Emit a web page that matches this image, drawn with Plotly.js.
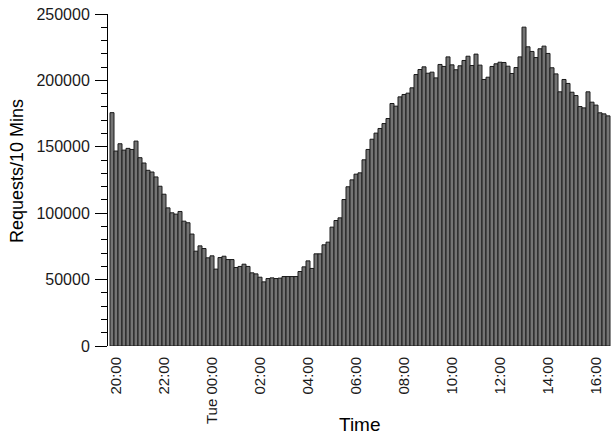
<!DOCTYPE html>
<html>
<head>
<meta charset="utf-8">
<script src="https://cdn.plot.ly/plotly-3.0.1.min.js"></script>
<style>html,body{margin:0;padding:0;background:#fff;}#chart{width:613px;height:437px;}</style>
</head>
<body>
<div id="chart"></div>
<script>
// Requests per 10-minute bin, starting Mon 19:50
const startTime = '2013-01-14T19:50:00Z';
const binMinutes = 10;
const requests = [
  175700, 146800, 152300, 147500, 148800, 148000, 154300, 141800, 137800, 132300,
  131000, 127300, 120300, 114300, 104000, 100300, 99300, 101300, 94000, 92800,
  84300, 71400, 75400, 73400, 66400, 67900, 57900, 66600, 67600, 65100,
  65100, 59100, 59900, 61600, 59900, 55100, 54300, 51800, 48300, 50800,
  51300, 50800, 51100, 52300, 52300, 52300, 52300, 56100, 59600, 64100,
  58400, 69400, 69400, 76200, 78200, 89500, 94500, 96500, 110300, 119900,
  125100, 129400, 130400, 140200, 148000, 155700, 160300, 163800, 167500, 171300,
  182600, 180600, 187600, 189400, 190400, 194400, 204400, 208200, 210200, 205400,
  206200, 201900, 212000, 210500, 217700, 211700, 208000, 211000, 215000, 218200,
  211200, 219800, 211500, 200700, 202400, 210500, 212500, 213700, 213500, 210700,
  205200, 209700, 217700, 240100, 225300, 221800, 217200, 223800, 225800, 220300,
  209500, 204900, 191400, 200700, 197700, 191100, 188600, 180300, 179300, 191400,
  183600, 181400, 175600, 174800, 173300
];
const tickTimes = [
  '2013-01-14 20:00', '2013-01-14 22:00', '2013-01-15 00:00', '2013-01-15 02:00',
  '2013-01-15 04:00', '2013-01-15 06:00', '2013-01-15 08:00', '2013-01-15 10:00',
  '2013-01-15 12:00', '2013-01-15 14:00', '2013-01-15 16:00'
];
const tickLabels = [
  '20:00', '22:00', 'Tue 00:00', '02:00', '04:00', '06:00', '08:00', '10:00',
  '12:00', '14:00', '16:00'
];
const xRange = ['2013-01-14 19:40', '2013-01-15 16:37:30'];
const xTitle = 'Time';
const yTitle = 'Requests/10 Mins';

function fmt(ms) {
  return new Date(ms).toISOString().slice(0, 19).replace('T', ' ');
}
const t0 = Date.parse(startTime);
const times = requests.map((_, i) => fmt(t0 + i * binMinutes * 60000));

const font = '"Liberation Sans", Arial, Helvetica, sans-serif';

Plotly.newPlot('chart', [{
  type: 'bar',
  x: times,
  y: requests,
  marker: { color: '#747474', line: { color: '#1a1a1a', width: 1 } },
  hoverinfo: 'x+y'
}], {
  width: 613, height: 437,
  margin: { l: 108, r: 2, t: 14, b: 91 },
  paper_bgcolor: '#ffffff', plot_bgcolor: '#ffffff',
  bargap: 0,
  showlegend: false,
  font: { family: font, color: '#000000', size: 15 },
  annotations: [{
    text: xTitle, xref: 'paper', yref: 'paper', x: 0.5, y: -0.235,
    xanchor: 'center', yanchor: 'middle', showarrow: false,
    font: { size: 19, color: '#000000' }
  }, {
    text: yTitle, xref: 'paper', yref: 'paper', x: -0.181, y: 0.527,
    xanchor: 'center', yanchor: 'middle', textangle: -90, showarrow: false,
    font: { size: 18, color: '#000000' }
  }],
  xaxis: {
    type: 'date',
    range: xRange,
    tickmode: 'array',
    tickvals: tickTimes,
    ticktext: tickLabels,
    tickangle: -90,
    ticks: '',
    ticklabelstandoff: 7,
    showline: false, showgrid: false, zeroline: false,
    tickfont: { size: 15, color: '#1a1a1a' },
    automargin: false
  },
  yaxis: {
    range: [0, 250000],
    dtick: 50000,
    tickformat: 'd',
    ticks: 'outside', ticklen: 12, tickwidth: 1, tickcolor: '#000000',
    ticklabelstandoff: 2,
    minor: { dtick: 10000, ticks: 'outside', ticklen: 6, tickwidth: 1, tickcolor: '#000000' },
    showline: true, linecolor: '#000000', linewidth: 1,
    showgrid: false, zeroline: false,
    tickfont: { size: 16, color: '#1a1a1a' },
    automargin: false
  }
}, { displayModeBar: false, staticPlot: true });
</script>
</body>
</html>
